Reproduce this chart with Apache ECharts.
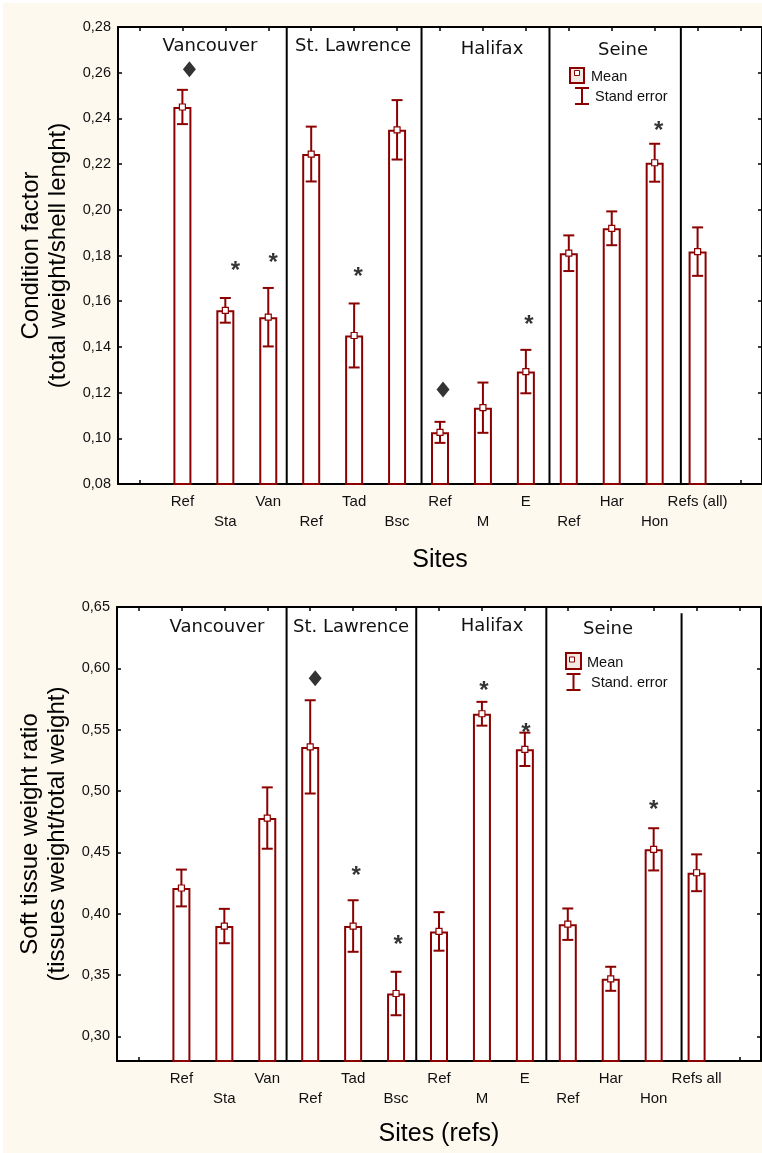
<!DOCTYPE html>
<html><head><meta charset="utf-8">
<script src="https://cdn.jsdelivr.net/npm/echarts@6/dist/echarts.min.js"></script>
<style>
html,body{margin:0;padding:0;background:#fff;}
#bg{position:absolute;left:3px;top:3px;width:759px;height:1150px;background:#fdf9ee;}
#chart{position:absolute;left:0;top:0;width:762px;height:1153px;}
</style></head><body><div id="bg"></div><div id="chart"></div>
<script>
// ---------- DATA: top panel (condition factor) ----------
const categoriesTop = ['', 'Ref', 'Sta', 'Van', 'Ref', 'Tad', 'Bsc', 'Ref', 'M', 'E', 'Ref', 'Har', 'Hon', 'Refs (all)', ''];
const meanTop = ['-', 0.245, 0.156, 0.153, 0.2244, 0.145, 0.235, 0.1026, 0.1134, 0.1292, 0.181, 0.1919, 0.2206, 0.1817, '-'];
const seTop   = ['-', 0.0075, 0.0054, 0.0128, 0.012, 0.014, 0.013, 0.0046, 0.011, 0.0095, 0.0078, 0.0074, 0.0083, 0.0106, '-'];
const ticksTop = [0.08, 0.10, 0.12, 0.14, 0.16, 0.18, 0.20, 0.22, 0.24, 0.26, 0.28];
const groupsTop = ['Vancouver', 'St. Lawrence', 'Halifax', 'Seine'];
const separatorsTop = [3.93, 7.07, 10.05, 13.11];           // in category units
const separatorTopsTop = [0.28, 0.28, 0.28, 0.28];
const starsTop = [[2, 0.1759], [3, 0.1795], [5, 0.1737], [9, 0.1525], [12, 0.2376]];
const diamondsTop = [[1, 0.2615], [7, 0.1214]];

// ---------- DATA: bottom panel (soft tissue ratio) ----------
const categoriesBottom = ['', 'Ref', 'Sta', 'Van', 'Ref', 'Tad', 'Bsc', 'Ref', 'M', 'E', 'Ref', 'Har', 'Hon', 'Refs all', ''];
const meanBottom = ['-', 0.421, 0.390, 0.478, 0.536, 0.390, 0.335, 0.3856, 0.563, 0.534, 0.3915, 0.347, 0.4525, 0.4334, '-'];
const seBottom   = ['-', 0.015, 0.014, 0.025, 0.038, 0.021, 0.0177, 0.0157, 0.0097, 0.0136, 0.0128, 0.0098, 0.0172, 0.015, '-'];
const ticksBottom = [0.30, 0.35, 0.40, 0.45, 0.50, 0.55, 0.60, 0.65];
const groupsBottom = ['Vancouver', 'St. Lawrence', 'Halifax', 'Seine'];
const separatorsBottom = [3.95, 6.97, 10.0, 13.15];
const separatorTopsBottom = [0.65, 0.65, 0.65, 0.645];
const starsBottom = [[5, 0.4361], [6, 0.3801], [8, 0.5869], [9, 0.553], [12, 0.4901]];
const diamondsBottom = [[4, 0.592]];

const legendLabelsTop = ['Mean', 'Stand error'];
const legendLabelsBottom = ['Mean', 'Stand. error'];

// ---------- STYLE (pixel nudges for annotation glyphs) ----------
const starNudgeTop = [10, 5, 4, 3, 4];
const diamondNudgeTop = [7, 3];
const starNudgeBottom = [3, 2, 2, 1, 0];
const diamondNudgeBottom = [5];
const RED = '#8b0000';
const FONT = "'Liberation Sans', Arial, sans-serif";
const GFONT = "'DejaVu Sans', Verdana, sans-serif";
const fmt = v => v.toFixed(2).replace('.', ',');

function errData(mean, se) {
  const out = [];
  mean.forEach((m, i) => { if (m !== '-') out.push([i, m - se[i], m + se[i]]); });
  return out;
}
function errRender(params, api) {
  const x = api.value(0);
  const p1 = api.coord([x, api.value(2)]);
  const p2 = api.coord([x, api.value(1)]);
  const hw = 5.5;
  const st = { stroke: RED, lineWidth: 2 };
  return { type: 'group', children: [
    { type: 'line', shape: { x1: p1[0], y1: p1[1], x2: p2[0], y2: p2[1] }, style: st },
    { type: 'line', shape: { x1: p1[0] - hw, y1: p1[1], x2: p1[0] + hw, y2: p1[1] }, style: st },
    { type: 'line', shape: { x1: p2[0] - hw, y1: p2[1], x2: p2[0] + hw, y2: p2[1] }, style: st }
  ]};
}
function sepRender(params, api) {
  const p1 = api.coord([api.value(0), api.value(1)]);
  const p2 = api.coord([api.value(0), api.value(2)]);
  return { type: 'line', shape: { x1: p1[0], y1: p1[1], x2: p2[0], y2: p2[1] }, style: { stroke: '#000', lineWidth: 2 } };
}

function xCat(grid, cats, pos, name, gap) {
  return {
    type: 'category', gridIndex: grid, data: cats, position: pos, boundaryGap: true,
    axisLine: { show: true, onZero: false, lineStyle: { color: '#000', width: 2 } },
    axisTick: { show: true, inside: true, alignWithLabel: true, interval: 0, length: 4, lineStyle: { color: '#000', width: 1.5 } },
    axisLabel: pos === 'bottom' ? {
      interval: 0, margin: 8, fontSize: 15, lineHeight: 20, color: '#111', fontFamily: FONT,
      formatter: (v, i) => (i % 2 === 0 ? '\n' + v : v)
    } : { show: false },
    splitLine: { show: false },
    name: pos === 'bottom' ? name : '', nameLocation: 'middle', nameGap: gap,
    nameTextStyle: { fontSize: 25, color: '#000', fontFamily: FONT }
  };
}
function yVal(grid, min, max, ticks, pos, name) {
  return {
    type: 'value', gridIndex: grid, min: min, max: max, position: pos,
    axisLine: { show: true, lineStyle: { color: '#000', width: 2 } },
    axisTick: { show: true, inside: true, length: 4, customValues: ticks, lineStyle: { color: '#000', width: 1.5 } },
    axisLabel: pos === 'left' ? { customValues: ticks, formatter: fmt, fontSize: 14.5, color: '#111', margin: 7, fontFamily: FONT } : { show: false },
    splitLine: { show: false },
    name: pos === 'left' ? name : '', nameLocation: 'middle', nameGap: 45,
    nameTextStyle: { fontSize: 24, lineHeight: 27, color: '#000', fontFamily: FONT, align: 'center' }
  };
}
function xHidden(grid) {
  return { type: 'value', gridIndex: grid, min: 0, max: 15, show: false };
}

function panelSeries(xi, xh, yi, mean, se, stars, diamonds, seps, sepTops, yMin, starNudge, diamondNudge) {
  return [
    { type: 'bar', xAxisIndex: xi, yAxisIndex: yi, data: mean, barWidth: 18, z: 2,
      itemStyle: { color: '#fff', borderColor: RED, borderWidth: 2 }, silent: true },
    { type: 'custom', xAxisIndex: xi, yAxisIndex: yi, data: errData(mean, se), renderItem: errRender, z: 3, silent: true },
    { type: 'scatter', xAxisIndex: xi, yAxisIndex: yi, data: mean, symbol: 'rect', symbolSize: 6, z: 4,
      itemStyle: { color: '#fff', borderColor: RED, borderWidth: 1.2, opacity: 1 }, silent: true },
    { type: 'scatter', xAxisIndex: xi, yAxisIndex: yi, symbol: 'circle', symbolSize: 1, z: 5,
      data: stars.map((s, k) => ({ value: s, label: { offset: [starNudge[k], 7] } })),
      itemStyle: { color: 'rgba(0,0,0,0)' },
      label: { show: true, position: 'inside', formatter: '*', fontSize: 24, fontWeight: 'bold', color: '#000', fontFamily: FONT }, silent: true },
    { type: 'scatter', xAxisIndex: xi, yAxisIndex: yi, symbol: 'diamond', symbolSize: [13, 16],
      data: diamonds.map((d, k) => ({ value: d, symbolOffset: [diamondNudge[k], 0] })),
      itemStyle: { color: '#000' }, z: 5, silent: true },
    { type: 'custom', xAxisIndex: xh, yAxisIndex: yi, data: seps.map((s, i) => [s, sepTops[i], yMin]),
      renderItem: sepRender, z: 6, silent: true, clip: false }
  ];
}

function groupText(x, y, text, align) {
  return { type: 'text', x: x, y: y, z: 100, style: { text: text, font: '18px ' + GFONT, fill: '#111', align: align || 'center', verticalAlign: 'middle' } };
}
function legendG(bx, by, bw, bh, ix, iy, tx, ty1, ex, ey1, ey2, ty2, labels) {
  return [
    { type: 'rect', z: 100, shape: { x: bx, y: by, width: bw, height: bh }, style: { fill: '#f4e8e2', stroke: RED, lineWidth: 2 } },
    { type: 'rect', z: 101, shape: { x: ix, y: iy, width: 5, height: 5 }, style: { fill: '#fff', stroke: RED, lineWidth: 1 } },
    { type: 'text', z: 100, x: tx, y: ty1, style: { text: labels[0], font: '14.5px ' + FONT, fill: '#111', align: 'left', verticalAlign: 'middle' } },
    { type: 'line', z: 100, shape: { x1: ex, y1: ey1, x2: ex, y2: ey2 }, style: { stroke: RED, lineWidth: 2 } },
    { type: 'line', z: 100, shape: { x1: ex - 7, y1: ey1, x2: ex + 7, y2: ey1 }, style: { stroke: RED, lineWidth: 2 } },
    { type: 'line', z: 100, shape: { x1: ex - 7, y1: ey2, x2: ex + 7, y2: ey2 }, style: { stroke: RED, lineWidth: 2 } },
    { type: 'text', z: 100, x: tx + 4, y: ty2, style: { text: labels[1], font: '14.5px ' + FONT, fill: '#111', align: 'left', verticalAlign: 'middle' } }
  ];
}

const chart = echarts.init(document.getElementById('chart'), null, { renderer: 'canvas' });
chart.setOption({
  backgroundColor: 'transparent',
  animation: false,
  textStyle: { fontFamily: FONT },
  grid: [
    { left: 118, top: 27, width: 648, height: 457, show: true, backgroundColor: '#fff', borderWidth: 0 },
    { left: 117, top: 607, width: 644, height: 454, show: true, backgroundColor: '#fff', borderWidth: 0 }
  ],
  xAxis: [
    xCat(0, categoriesTop, 'bottom', 'Sites', 64),
    xCat(0, categoriesTop, 'top'),
    xHidden(0),
    xCat(1, categoriesBottom, 'bottom', 'Sites (refs)', 61),
    xCat(1, categoriesBottom, 'top'),
    xHidden(1)
  ],
  yAxis: [
    yVal(0, ticksTop[0], ticksTop[ticksTop.length - 1], ticksTop, 'left', 'Condition factor\n(total weight/shell lenght)'),
    yVal(0, ticksTop[0], ticksTop[ticksTop.length - 1], ticksTop, 'right'),
    yVal(1, 0.28, 0.65, ticksBottom, 'left', 'Soft tissue weight ratio\n(tissues weight/total weight)'),
    yVal(1, 0.28, 0.65, ticksBottom, 'right')
  ],
  series: [
    ...panelSeries(0, 2, 0, meanTop, seTop, starsTop, diamondsTop, separatorsTop, separatorTopsTop, 0.08, starNudgeTop, diamondNudgeTop),
    ...panelSeries(3, 5, 2, meanBottom, seBottom, starsBottom, diamondsBottom, separatorsBottom, separatorTopsBottom, 0.28, starNudgeBottom, diamondNudgeBottom)
  ],
  graphic: [
    groupText(210, 46, groupsTop[0]),
    groupText(295, 46, groupsTop[1], 'left'),
    groupText(492, 49, groupsTop[2]),
    groupText(623, 50, groupsTop[3]),
    groupText(217, 627, groupsBottom[0]),
    groupText(293, 627, groupsBottom[1], 'left'),
    groupText(492, 626, groupsBottom[2]),
    groupText(608, 629, groupsBottom[3]),
    ...legendG(570, 68, 14, 15, 574.5, 70.5, 591, 76.5, 582, 88, 104, 97, legendLabelsTop),
    ...legendG(566, 653, 15, 16, 569.5, 657, 587, 662.5, 573.5, 674, 690, 683, legendLabelsBottom)
  ]
});
</script></body></html>
